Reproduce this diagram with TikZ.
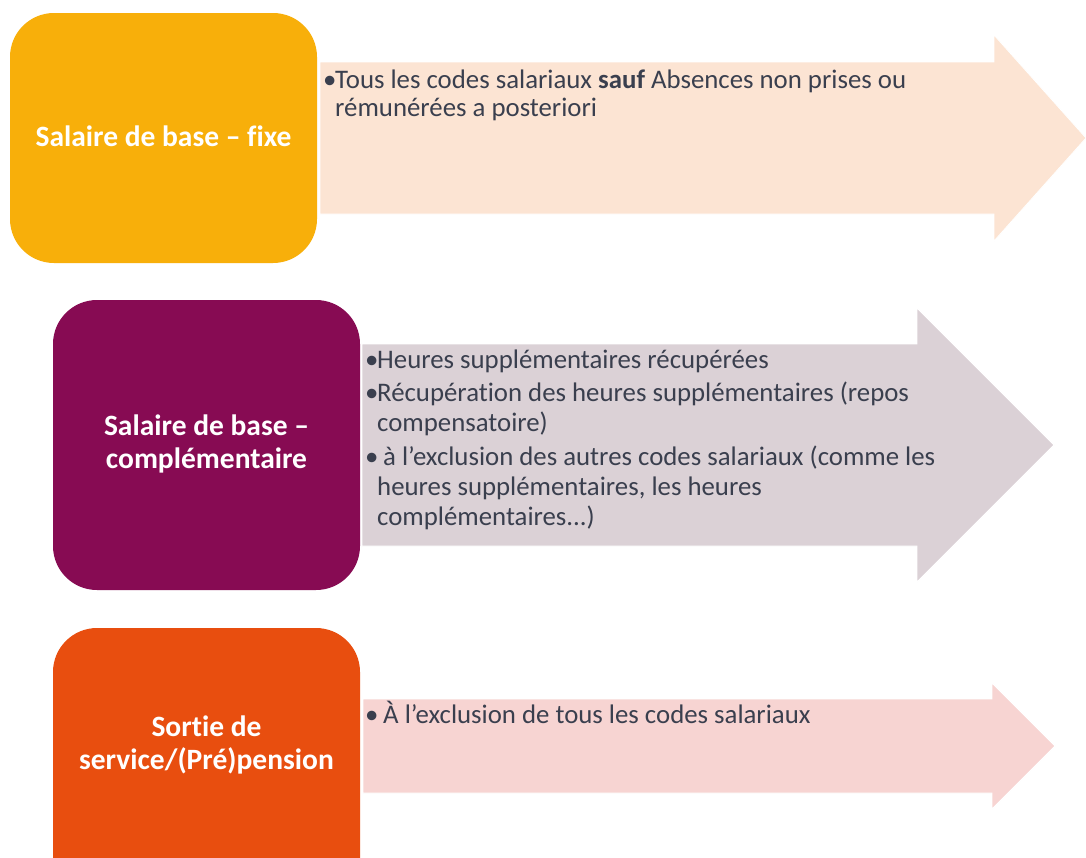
\documentclass[tikz,border=0pt]{standalone}
\usepackage{fontspec}
\setmainfont{Carlito}[RawFeature=-liga]
\definecolor{cfixe}{HTML}{F8AF0A}
\definecolor{ccompl}{HTML}{870B53}
\definecolor{csortie}{HTML}{E84E0F}
\definecolor{afixe}{HTML}{FCE4D3}
\definecolor{acompl}{HTML}{DBD1D6}
\definecolor{asortie}{HTML}{F7D4D2}
\definecolor{ctext}{HTML}{3A3F4E}
\newcommand{\bul}{\llap{\makebox[12pt][l]{•}}}
\begin{document}
\begin{tikzpicture}[x=1pt,y=-1pt,
  catbox/.style={rounded corners=44pt, draw=none, minimum width=307pt, inner sep=0pt},
  cattext/.style={text=white, font={\fontsize{29.5}{33}\selectfont\bfseries}, align=center, inner sep=0pt},
  arrowshape/.style={draw=white, line width=0.8pt},
  bodytext/.style={text=ctext, align=left, inner sep=0pt, anchor=base west}
]
\useasboundingbox (0,0) rectangle (1086,857);
\clip (0,0) rectangle (1086,857);
\fill[white] (0,0) rectangle (1086,857);

% arrows
\filldraw[arrowshape, fill=afixe] (320,62) -- (994,62) -- (994,35) -- (1086,138) -- (994,241) -- (994,214) -- (320,214) -- cycle;
\filldraw[arrowshape, fill=acompl] (362,344) -- (917,344) -- (917,308) -- (1054,445) -- (917,582) -- (917,546) -- (362,546) -- cycle;
\filldraw[arrowshape, fill=asortie] (363,699) -- (992,699) -- (992,683) -- (1055,746) -- (992,809) -- (992,793) -- (363,793) -- cycle;

% category boxes
\node[catbox, fill=cfixe, minimum height=250pt] (b1) at (163.5,138) {};
\node[catbox, fill=ccompl, minimum height=290pt] (b2) at (206.5,445) {};
\node[catbox, fill=csortie, minimum height=290pt] (b3) at (206.5,773) {};

\node[cattext] (t1) at (163.5,136) {Salaire de base – fixe};
\node[cattext] (t2) at (206.5,444) {Salaire de base –\\complémentaire};
\node[cattext] (t3) at (206.5,745) {Sortie de\\service/(Pré)pension};

% arrow texts (base anchor = baseline of the last line)
\node[bodytext, font={\fontsize{26.8}{28}\selectfont}] (x1) at (335,116)
  {\bul Tous les codes salariaux \textbf{sauf} Absences non prises ou\\
   rémunérées a posteriori};
\node[bodytext, font={\fontsize{26.8}{30}\selectfont}] (x2) at (377,525)
  {\bul Heures supplémentaires récupérées\\[3pt]
   \bul Récupération des heures supplémentaires (repos\\
   compensatoire)\\[4pt]
   \bul\hspace{6pt}à l’exclusion des autres codes salariaux (comme les\\
   heures supplémentaires, les heures\\
   complémentaires...)};
\node[bodytext, font={\fontsize{26.8}{30}\selectfont}] (x3) at (377,723)
  {\bul\hspace{6pt}À l’exclusion de tous les codes salariaux};
\end{tikzpicture}
\end{document}
